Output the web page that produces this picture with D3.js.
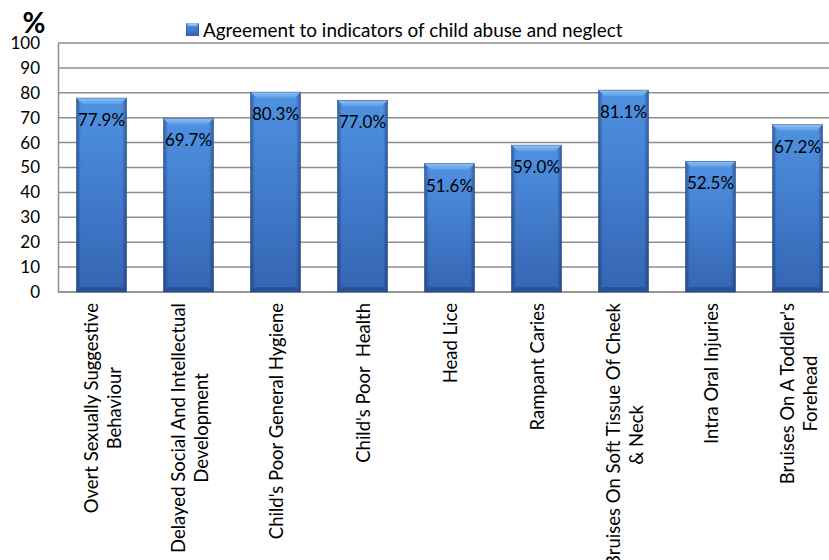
<!DOCTYPE html>
<html>
<head>
<meta charset="utf-8">
<script src="https://cdn.jsdelivr.net/npm/d3@7"></script>
<style>
  html, body { margin: 0; padding: 0; background: #fff; }
  svg { display: block; }
  text { font-family: Lato, "Open Sans", sans-serif; fill: #000; white-space: pre; }
</style>
</head>
<body>
<script>
// ---- data ----
const categories = [
  "Overt Sexually Suggestive\nBehaviour",
  "Delayed Social And Intellectual\nDevelopment",
  "Child's Poor General Hygiene",
  "Child's Poor  Health",
  "Head Lice",
  "Rampant Caries",
  "Bruises On Soft Tissue Of Cheek\n& Neck",
  "Intra Oral Injuries",
  "Bruises On A Toddler's\nForehead"
];
const values = [77.9, 69.7, 80.3, 77.0, 51.6, 59.0, 81.1, 52.5, 67.2];
const valueLabels = ["77.9%", "69.7%", "80.3%", "77.0%", "51.6%", "59.0%", "81.1%", "52.5%", "67.2%"];
const yTicks = [0, 10, 20, 30, 40, 50, 60, 70, 80, 90, 100];
const seriesName = "Agreement to indicators of child abuse and neglect";
const yAxisTitle = "%";

// ---- layout ----
const W = 829, H = 560;
const plot = { left: 58, right: 841, top: 43, bottom: 292 };

const svg = d3.select("body").append("svg").attr("width", W).attr("height", H);
const defs = svg.append("defs");

const vg = defs.append("linearGradient").attr("id", "barV").attr("x1", 0).attr("y1", 0).attr("x2", 0).attr("y2", 1);
vg.append("stop").attr("offset", "0%").attr("stop-color", "#4F92E2");
vg.append("stop").attr("offset", "100%").attr("stop-color", "#3465B3");

const hg = defs.append("linearGradient").attr("id", "barH").attr("x1", 0).attr("y1", 0).attr("x2", 1).attr("y2", 0);
hg.append("stop").attr("offset", "0%").attr("stop-color", "#0a1f4a").attr("stop-opacity", 0.45);
hg.append("stop").attr("offset", "9%").attr("stop-color", "#0a1f4a").attr("stop-opacity", 0.0);
hg.append("stop").attr("offset", "91%").attr("stop-color", "#0a1f4a").attr("stop-opacity", 0.0);
hg.append("stop").attr("offset", "100%").attr("stop-color", "#0a1f4a").attr("stop-opacity", 0.45);

const tg = defs.append("linearGradient").attr("id", "barTop").attr("x1", 0).attr("y1", 0).attr("x2", 0).attr("y2", 1);
tg.append("stop").attr("offset", "0%").attr("stop-color", "#8CC0F5");
tg.append("stop").attr("offset", "100%").attr("stop-color", "#5C9DE6");

const x = d3.scaleBand().domain(categories).range([plot.left, plot.right])
  .paddingInner(0.425).paddingOuter(0.2125);
const y = d3.scaleLinear().domain([0, 100]).range([plot.bottom, plot.top]);

// gridlines
const gridColor = "#8f8f8f";
svg.append("g").selectAll("line").data(yTicks).join("line")
  .attr("x1", plot.left).attr("x2", plot.right)
  .attr("y1", d => y(d)).attr("y2", d => y(d))
  .attr("stroke", gridColor).attr("stroke-width", 1.5);

// y axis
const yAxis = svg.append("g").attr("transform", `translate(${plot.left},0)`)
  .call(d3.axisLeft(y).tickValues(yTicks).tickSize(0).tickPadding(18));
yAxis.select(".domain").attr("stroke", gridColor).attr("stroke-width", 1.5);
yAxis.selectAll("text").attr("font-size", 17).attr("font-family", "Lato, sans-serif").attr("fill", "#000");

// x axis line
svg.append("line").attr("x1", plot.left).attr("x2", plot.right)
  .attr("y1", plot.bottom).attr("y2", plot.bottom)
  .attr("stroke", gridColor).attr("stroke-width", 1.5);

// bars
const bars = svg.append("g").selectAll("g").data(values).join("g");
const bw = x.bandwidth();
bars.append("rect")
  .attr("x", (d, i) => x(categories[i])).attr("y", d => y(d))
  .attr("width", bw).attr("height", d => y(0) - y(d))
  .attr("fill", "url(#barV)");
bars.append("rect")
  .attr("x", (d, i) => x(categories[i])).attr("y", d => y(d))
  .attr("width", bw).attr("height", d => y(0) - y(d))
  .attr("fill", "url(#barH)");
// top bevel
bars.append("path")
  .attr("d", (d, i) => {
    const x0 = x(categories[i]), x1 = x0 + bw, t = y(d), b = 6;
    return `M${x0},${t}L${x1},${t}L${x1 - b},${t + b}L${x0 + b},${t + b}Z`;
  })
  .attr("fill", "url(#barTop)");
// bottom bevel
bars.append("path")
  .attr("d", (d, i) => {
    const x0 = x(categories[i]), x1 = x0 + bw, bt = y(0), b = 5;
    return `M${x0},${bt}L${x1},${bt}L${x1 - b},${bt - b}L${x0 + b},${bt - b}Z`;
  })
  .attr("fill", "#254f90").attr("opacity", 0.8);
bars.append("rect")
  .attr("x", (d, i) => x(categories[i])).attr("y", d => y(d))
  .attr("width", bw).attr("height", d => y(0) - y(d))
  .attr("fill", "none").attr("stroke", "#1d3f78").attr("stroke-width", 0.6).attr("stroke-opacity", 0.7);

// value labels
svg.append("g").selectAll("text").data(values).join("text")
  .attr("x", (d, i) => x(categories[i]) + bw / 2)
  .attr("y", d => y(d) + 28)
  .attr("text-anchor", "middle")
  .attr("font-size", 17)
  .text((d, i) => valueLabels[i]);

// category labels (rotated)
const catTop = 303, lineH = 23;
const catG = svg.append("g").selectAll("g").data(categories).join("g")
  .attr("transform", d => `translate(${x(d) + bw / 2 + 1},${catTop}) rotate(-90)`);
catG.each(function(d) {
  const g = d3.select(this);
  const lines = d.split("\n");
  const n = lines.length;
  const texts = lines.map((ln, j) => g.append("text")
    .attr("font-size", 18.5)
    .attr("text-anchor", "middle")
    .attr("y", (j - (n - 1) / 2) * lineH)
    .attr("dy", "0.36em")
    .text(ln));
  const maxW = d3.max(texts, t => t.node().getComputedTextLength());
  texts.forEach(t => t.attr("x", -maxW / 2));
});

// y axis title
svg.append("text").attr("x", 34).attr("y", 33).attr("text-anchor", "middle")
  .attr("font-size", 28).attr("font-weight", "bold").text(yAxisTitle);

// legend
const lg = svg.append("g").attr("transform", "translate(186,23)");
lg.append("rect").attr("width", 13).attr("height", 13).attr("fill", "url(#barV)");
lg.append("rect").attr("width", 13).attr("height", 13).attr("fill", "url(#barH)");
lg.append("path").attr("d", "M0,0L13,0L10,3L3,3Z").attr("fill", "#8CC0F5");
lg.append("text").attr("x", 17).attr("y", 13.5).attr("font-size", 18.9).text(seriesName);
</script>
</body>
</html>
